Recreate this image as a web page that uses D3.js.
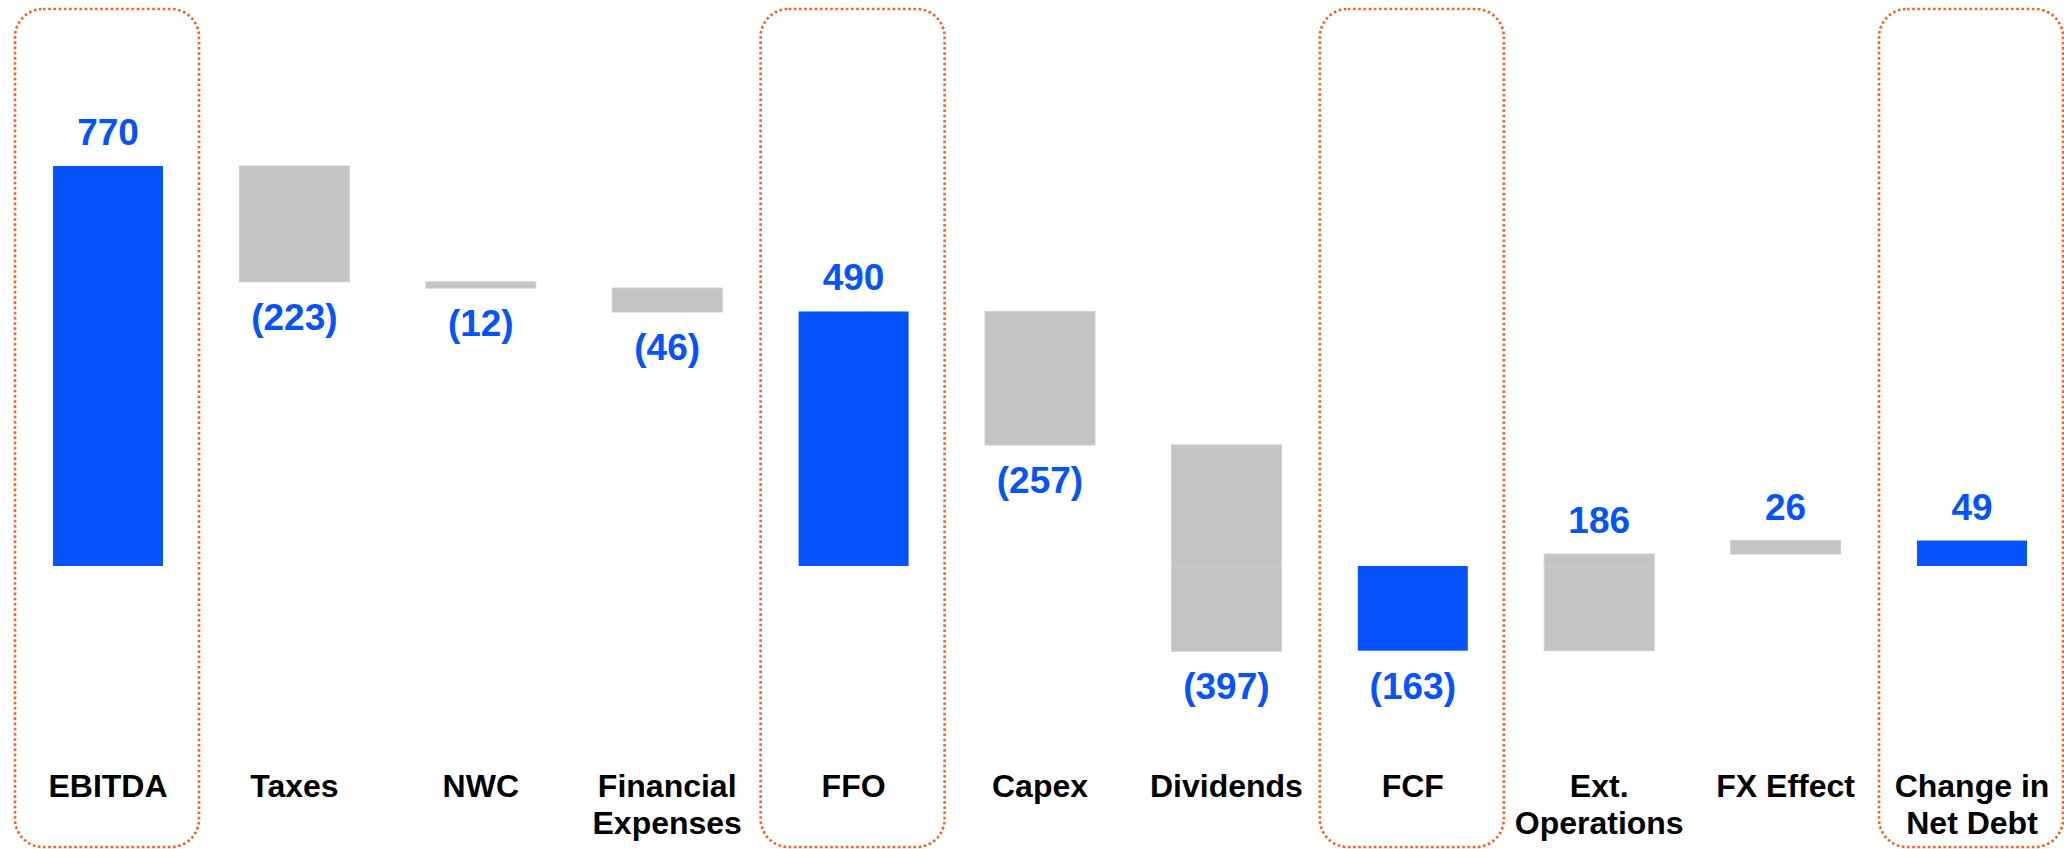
<!DOCTYPE html>
<html>
<head>
<meta charset="utf-8">
<script src="https://cdn.jsdelivr.net/npm/d3@7"></script>
<style>
  html, body { margin: 0; padding: 0; background: #fff; }
</style>
</head>
<body>
<div id="chart"></div>
<script>
const categories = ['EBITDA', 'Taxes', 'NWC', 'Financial Expenses', 'FFO', 'Capex',
  'Dividends', 'FCF', 'Ext. Operations', 'FX Effect', 'Change in Net Debt'];
const categoryLines = [['EBITDA'], ['Taxes'], ['NWC'], ['Financial', 'Expenses'], ['FFO'], ['Capex'],
  ['Dividends'], ['FCF'], ['Ext.', 'Operations'], ['FX Effect'], ['Change in', 'Net Debt']];
const values = [770, -223, -12, -46, 490, -257, -397, -163, 186, 26, 49];
const isTotal = [true, false, false, false, true, false, false, true, false, false, true];
const valueLabels = ['770', '(223)', '(12)', '(46)', '490', '(257)', '(397)', '(163)', '186', '26', '49'];

const width = 2064, height = 849;
const blue = '#0653fb', grey = '#c4c4c4', boxColor = '#fa6126';

const svg = d3.select('#chart')
  .append('svg')
  .attr('width', width)
  .attr('height', height);

const x = d3.scaleBand()
  .domain(categories)
  .range([14.8, 2065.2])
  .paddingInner(0.41)
  .paddingOuter(0.205);

const y = d3.scaleLinear()
  .domain([0, 770])
  .range([566, 166]);

// running totals for the waterfall
let running = 0;
const bars = categories.map((c, i) => {
  let start, end;
  if (isTotal[i]) {
    start = 0; end = values[i];
  } else {
    start = running; end = running + values[i];
  }
  running = end;
  return { cat: c, i: i, start: start, end: end, total: isTotal[i], value: values[i] };
});

// split bars that cross zero (like the stacked excel bars)
const segments = [];
bars.forEach(b => {
  const lo = Math.min(b.start, b.end), hi = Math.max(b.start, b.end);
  if (lo < 0 && hi > 0) {
    segments.push({ b: b, lo: lo, hi: 0 });
    segments.push({ b: b, lo: 0, hi: hi });
  } else {
    segments.push({ b: b, lo: lo, hi: hi });
  }
});

// dotted boxes round the totals
svg.selectAll('.box')
  .data(bars.filter(d => d.total))
  .enter()
  .append('rect')
  .attr('class', 'box')
  .attr('x', d => x(d.cat) + x.bandwidth() / 2 - 93)
  .attr('y', 9)
  .attr('width', 184)
  .attr('height', 838)
  .attr('rx', 28)
  .attr('ry', 28)
  .attr('fill', 'none')
  .attr('stroke', boxColor)
  .attr('stroke-width', 2.6)
  .attr('stroke-dasharray', '2.6,2.6');

svg.selectAll('.bar')
  .data(segments)
  .enter()
  .append('rect')
  .attr('class', 'bar')
  .attr('x', d => x(d.b.cat))
  .attr('y', d => y(d.hi))
  .attr('width', x.bandwidth())
  .attr('height', d => Math.max(2, y(d.lo) - y(d.hi)))
  .attr('fill', d => d.b.total ? blue : grey)
  .attr('stroke', d => d.b.total ? 'none' : '#cdcdcd')
  .attr('stroke-width', 1);

// value labels
svg.selectAll('.value')
  .data(bars)
  .enter()
  .append('text')
  .attr('class', 'value')
  .attr('x', d => x(d.cat) + x.bandwidth() / 2)
  .attr('y', d => d.value >= 0 ? y(Math.max(d.start, d.end)) - 21 : y(Math.min(d.start, d.end)) + 48)
  .attr('text-anchor', 'middle')
  .attr('fill', blue)
  .style('font-family', '"Liberation Sans", Arial, sans-serif')
  .style('font-weight', 'bold')
  .style('font-size', '37px')
  .text(d => valueLabels[d.i]);

// category labels
const catLabels = svg.selectAll('.cat')
  .data(categories)
  .enter()
  .append('text')
  .attr('class', 'cat')
  .attr('x', d => x(d) + x.bandwidth() / 2)
  .attr('y', 797)
  .attr('text-anchor', 'middle')
  .attr('fill', '#000')
  .style('font-family', '"Liberation Sans", Arial, sans-serif')
  .style('font-weight', 'bold')
  .style('font-size', '32px');

catLabels.each(function (d, i) {
  d3.select(this).selectAll('tspan')
    .data(categoryLines[i])
    .enter()
    .append('tspan')
    .attr('x', x(d) + x.bandwidth() / 2)
    .attr('dy', (l, k) => k === 0 ? 0 : 36.5)
    .text(l => l);
});
</script>
</body>
</html>
